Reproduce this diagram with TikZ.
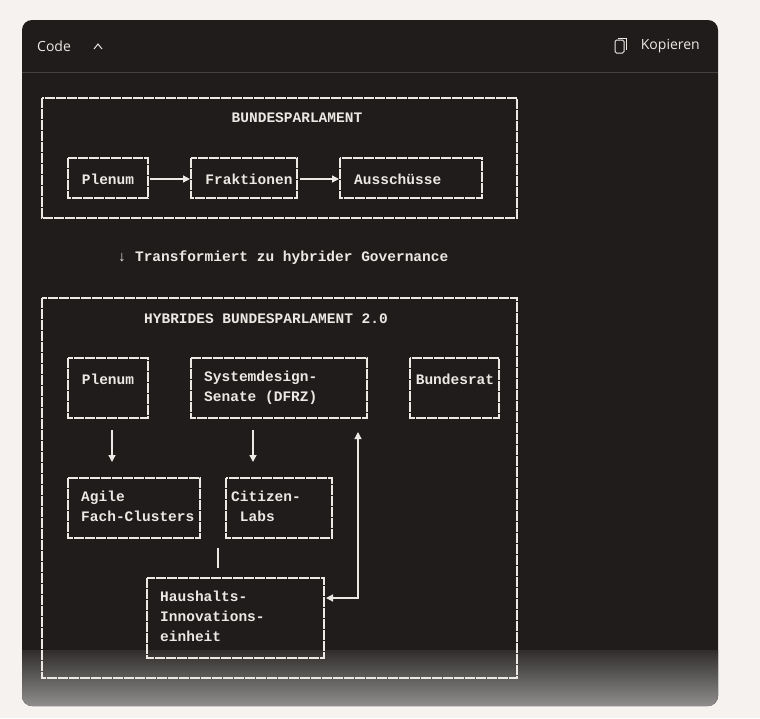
\documentclass[tikz,border=0pt]{standalone}
\usepackage{fontspec}
\setmainfont{Liberation Sans}
\newfontfamily\mono{Liberation Mono}
\newfontfamily\ui{Open Sans}
\usetikzlibrary{arrows.meta}
\definecolor{pagebg}{HTML}{F5F2EF}
\definecolor{card}{HTML}{1F1C1B}
\definecolor{ink}{HTML}{ECE9E5}
\definecolor{rule}{HTML}{45413F}
\begin{document}
\begin{tikzpicture}[x=1pt,y=-1pt,
  box/.style={draw=ink,line width=1.3pt,dash pattern=on 10pt off 1pt},
  txt/.style={text=ink,font=\mono\bfseries\fontsize{14.5}{20}\selectfont,align=left,inner sep=0pt},
  con/.style={draw=ink,line width=1.3pt},
  tip/.style={-{Triangle[length=7pt,width=7pt]}}]
\useasboundingbox (0,0) rectangle (760,718);
\fill[pagebg] (0,0) rectangle (760,718);
\fill[card,rounded corners=10pt] (22,20) rectangle (718,706);
\shade[top color=card,bottom color=card!50!white,rounded corners=10pt] (22,640) rectangle (718,706);
\fill[card] (22,640) rectangle (718,650);
\draw[rule,line width=0.8pt] (22,72.5) -- (718,72.5);
\node[anchor=west,text=ink,font=\ui\fontsize{14}{16}\selectfont,inner sep=0pt] (code) at (37,46) {Code};
\draw[ink,line width=1pt] (94,49) -- (98,44) -- (102,49);
\node[anchor=east,text=ink,font=\ui\fontsize{14}{16}\selectfont,inner sep=0pt] (kop) at (700,46) {Kopieren};
\draw[ink,line width=1pt,rounded corners=1.5pt] (615,40) rectangle (624,53);
\draw[ink,line width=1pt] (618,38) -- (626,38) -- (626,50);
% top block
\draw[box] (42,98) rectangle (517,218);
\node[txt] (t1) at (297,118) {BUNDESPARLAMENT};
\draw[box] (68,158) rectangle (148,198); \node[txt] (p1) at (108,179) {Plenum};
\draw[box] (191,158) rectangle (297,198); \node[txt] (f1) at (249,179) {Fraktionen};
\draw[box] (340,158) rectangle (482,198); \node[txt,anchor=west] (a1) at (354,179) {Ausschüsse};
\coordinate (pR) at (150,179); \coordinate (fL) at (190,179);
\coordinate (fR) at (300,179); \coordinate (aL) at (339,179);
\draw[con,tip] (pR) -- (fL);
\draw[con,tip] (fR) -- (aL);
\node[txt] (trans) at (283,258) {↓ Transformiert zu hybrider Governance};
% bottom block
\draw[box] (42,298) rectangle (517,678);
\node[txt] (t2) at (266,319) {HYBRIDES BUNDESPARLAMENT 2.0};
\draw[box] (68,358) rectangle (148,418); \node[txt] (p2) at (108,379) {Plenum};
\draw[box] (191,358) rectangle (367,418); \node[txt,anchor=north west] (s2) at (204,371) {Systemdesign-\\Senate (DFRZ)};
\draw[box] (410,358) rectangle (499,418); \node[txt] (b2) at (455,379) {Bundesrat};
\draw[box] (68,478) rectangle (200,538); \node[txt,anchor=north west] (ag) at (81,491) {Agile\\Fach-Clusters};
\draw[box] (226,478) rectangle (332,538); \node[txt,anchor=north west] (ci) at (231,491) {Citizen-\\\ Labs};
\draw[box] (147,578) rectangle (324,658); \node[txt,anchor=north west] (hh) at (160,591) {Haushalts-\\Innovations-\\einheit};
\coordinate (d1a) at (112,430); \coordinate (d1b) at (112,462);
\coordinate (d2a) at (253,430); \coordinate (d2b) at (253,462);
\draw[con,tip] (d1a) -- (d1b);
\draw[con,tip] (d2a) -- (d2b);
\coordinate (l1) at (218,548); \coordinate (l2) at (218,568);
\draw[con] (l1) -- (l2);
\coordinate (hR) at (326,598); \coordinate (up) at (358,432);
\draw[con,{Triangle[length=7pt,width=7pt]}-{Triangle[length=7pt,width=7pt]}] (hR) -- (358,598) -- (up);
\end{tikzpicture}
\end{document}
